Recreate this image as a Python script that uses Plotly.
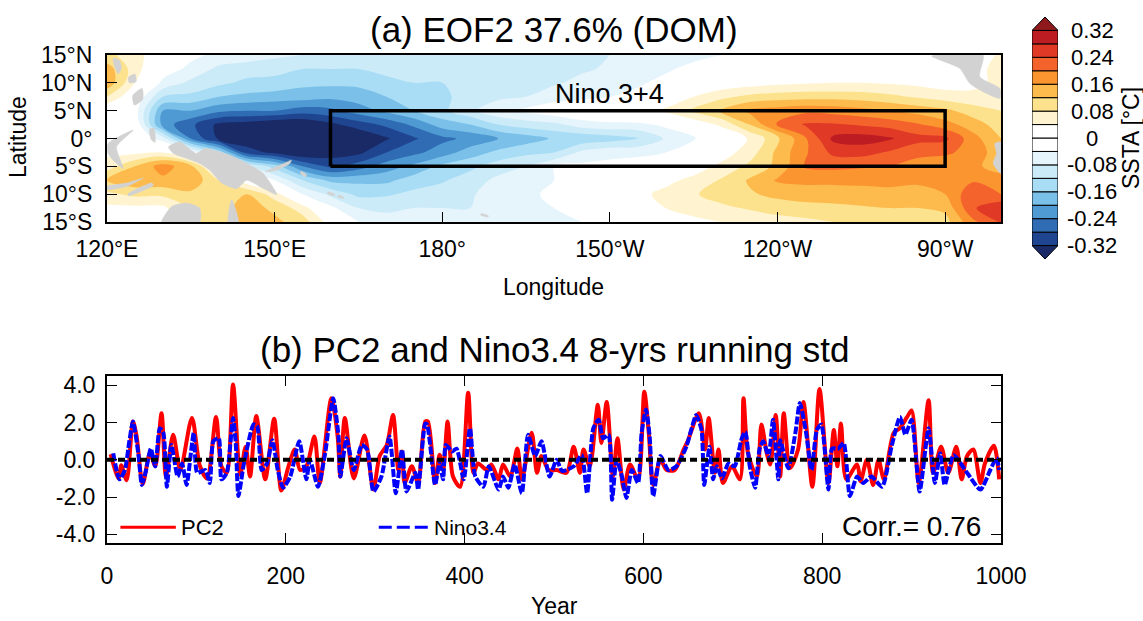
import numpy as np
import plotly.graph_objects as go

FONT = "Liberation Sans"
W, H = 1143, 621

# ---------- panel (a) data ----------
lats = [15, 12.5, 10, 7.5, 5, 2.5, 0, -2.5, -5, -7.5, -10, -12.5, -15]
lons = list(range(120, 285, 5))
eof_by_lon = [
 [.09,.14,.15,.08,0,0,0,.03,.06,.12,.07,.03,.02],
 [.06,.06,.04,0,-.02,0,0,.03,.12,.15,.09,.03,.02],
 [0,-.02,-.05,-.12,-.2,-.22,-.06,.04,.18,.15,.09,.03,.02],
 [-.03,-.05,-.09,-.13,-.2,-.27,-.24,-.02,.13,.15,.11,.09,.09],
 [-.05,-.09,-.11,-.16,-.23,-.33,-.33,-.13,0,.08,.1,.1,.09],
 [-.06,-.1,-.13,-.17,-.24,-.34,-.35,-.3,-.07,.01,.12,.14,.14],
 [-.07,-.11,-.13,-.18,-.24,-.36,-.36,-.33,-.14,-.04,.06,.11,.13],
 [-.08,-.12,-.15,-.18,-.26,-.36,-.38,-.36,-.24,-.12,-.04,.06,.10],
 [-.09,-.12,-.15,-.19,-.25,-.33,-.38,-.34,-.29,-.17,-.09,-.03,.02],
 [-.09,-.12,-.15,-.18,-.22,-.3,-.36,-.33,-.26,-.17,-.13,-.08,-.04],
 [-.09,-.11,-.13,-.16,-.19,-.27,-.325,-.28,-.22,-.17,-.125,-.09,-.06],
 [-.09,-.11,-.12,-.14,-.16,-.23,-.285,-.25,-.19,-.14,-.11,-.08,-.06],
 [-.09,-.11,-.12,-.125,-.13,-.18,-.25,-.22,-.15,-.125,-.1,-.08,-.06],
 [-.09,-.11,-.11,-.11,-.09,-.16,-.23,-.18,-.13,-.1,-.085,-.08,-.06],
 [-.09,-.1,-.105,-.09,-.05,-.12,-.2,-.15,-.1,-.07,-.06,-.06,-.05],
 [-.09,-.1,-.095,-.08,-.03,-.1,-.18,-.13,-.08,-.06,-.05,-.05,-.05],
 [-.085,-.09,-.085,-.06,-.01,-.09,-.155,-.12,-.04,-.04,-.03,-.04,-.05],
 [-.085,-.085,-.07,-.05,0,-.06,-.15,-.07,-.03,-.02,-.01,-.03,-.04],
 [-.08,-.075,-.06,-.04,.01,-.05,-.14,-.05,-.03,0,0,-.02,-.03],
 [-.07,-.06,-.045,-.03,.03,-.05,-.125,-.05,-.02,.01,.03,.01,-.01],
 [-.06,-.045,-.03,0,.05,-.03,-.075,-.04,0,.03,.05,.04,.02],
 [-.05,-.03,-.01,.04,.09,.01,-.045,-.01,.02,.05,.075,.055,.03],
 [-.04,-.01,.01,.07,.125,.05,-.01,.02,.05,.085,.1,.07,.04],
 [-.03,0,.02,.09,.17,.12,.045,.06,.09,.125,.115,.085,.05],
 [-.02,.01,.03,.10,.18,.205,.11,.13,.13,.165,.13,.1,.06],
 [-.01,.01,.035,.105,.19,.245,.195,.195,.205,.17,.14,.105,.07],
 [-.005,.02,.04,.105,.185,.245,.29,.25,.21,.17,.14,.11,.08],
 [-.005,.02,.04,.1,.175,.235,.30,.255,.205,.17,.145,.115,.085],
 [-.01,.01,.035,.09,.16,.225,.285,.235,.2,.17,.15,.12,.08],
 [-.02,.005,.03,.075,.145,.205,.255,.21,.185,.165,.15,.12,.085],
 [-.03,0,.02,.06,.13,.175,.25,.205,.18,.17,.16,.13,.105],
 [-.04,.01,.03,.05,.1,.14,.175,.19,.17,.195,.23,.235,.19],
 [.06,.07,.05,.06,.08,.1,.12,.13,.14,.18,.2,.275,.245],
]

levels = [-.32,-.28,-.24,-.20,-.16,-.12,-.08,-.04,0,.04,.08,.12,.16,.20,.24,.28,.32]
band_colors = ["#1a2a66","#1f4590","#2f6cb3","#4f9ad3","#7bc0e8","#a8ddf5","#ccebf9","#e6f4fc","#ffffff",
               "#ffffff","#fff4cf","#fde28d","#fdbb4d","#fb9530","#f4632b","#e03a27","#bd1c23","#8f1a1e"]

land_polys = [
 ([121.1,122.2,122.6,122.0,121.4],[14.4,14.1,12.6,11.6,12.8]),
 ([123.8,125.0,125.2,124.0],[11.0,11.6,10.2,10.0]),
 ([124.6,126.3,126.4,124.9],[7.7,9.0,7.0,6.0]),
 ([127.6,128.4,128.6,127.9],[1.6,1.9,-0.7,-0.2]),
 ([120.2,124.7,121.7,122.9,121.1,120.2],[-0.9,1.5,-1.5,-5.4,-3.9,-2.7]),
 ([131,133.1,134.3,136,137.5,142,146.2,148,150.4,148,145,143.2,140.5,138.4,136.6,134.3,131.9],
  [-1.5,-0.6,-1.5,-2.7,-1.8,-3,-5.1,-6.3,-10.1,-9,-7.5,-9,-8,-5.7,-4.5,-3.6,-2.7]),
 ([148.3,150.4,152.7,153,151.6,149.5],[-6,-5.7,-4.5,-3.9,-4.5,-5.4]),
 ([154.8,155.7,155.4,154.6],[-5.9,-6.5,-6.9,-6.2]),
 ([159.6,160.8,160.6,159.4],[-9.6,-10,-10.3,-9.9]),
 ([161.4,162.4,162.2,161.2],[-10.2,-10.6,-10.8,-10.4]),
 ([187,188.3,188.1,186.8],[-13.5,-13.9,-14.1,-13.7]),
 ([129.8,131.6,134.3,136.6,136.6],[-15,-12.2,-11.6,-12.5,-15]),
 ([141.7,142.3,143.5],[-15,-11,-15]),
 ([123.8,128,128.3,123.8],[-9.9,-8,-8.4,-10.3]),
 ([120,123.5,126.5,123.6,120],[-8.6,-8,-7.1,-8.6,-9.2]),
 ([267.6,276.8,276.2,279.8,279.8,277.4,274.4,272.6],[14.8,15,11.1,9,7.2,8.1,9.9,12.6]),
 ([278.9,280,280,278.6,279.2],[-0.9,-0.6,-6.3,-4.5,-2.7]),
]
box_lon = [160, 270, 270, 160, 160]
box_lat = [-5, -5, 5, 5, -5]

map_xticks = [120,150,180,210,240,270]
map_xlabels = ["120°E","150°E","180°","150°W","120°W","90°W"]
map_yticks = [15,10,5,0,-5,-10,-15]
map_ylabels = ["15°N","10°N","5°N","0°","5°S","10°S","15°S"]

# ---------- panel (b) data ----------
pc2_year = [4,13,16,22,29,33,40,48,54,61,66,74,82,95,104,112,122,128,134,141,149,155,160,167,177,187,195,203,210,216,
 223,232,238,251,258,261,266,276,288,298,305,313,320,326,330,333,341,348,356,359,367,372,376,381,387,395,404,410,415,425,
 430,438,443,451,459,464,475,481,486,494,503,514,522,529,533,540,549,553,559,566,571,578,585,594,601,606,611,619,626,635,
 645,650,662,669,673,680,684,689,699,708,712,717,727,732,738,742,748,753,757,764,773,779,789,797,807,813,817,821,827,839,
 843,850,857,863,869,880,887,895,900,908,919,924,933,941,950,956,962,969,977,982,992,998]
pc2 = [.3,-1.0,-.3,-1.1,2.05,1.3,-1.3,.35,-.35,2.5,-.9,1.35,-.55,2.25,-.35,-1.0,2.3,-.35,-.7,4.05,-.8,.7,-.9,2.35,-1.05,2.2,-1.65,-.35,.55,-.55,
 -.35,1.25,-1.25,3.3,1.25,-.9,2.25,-1.0,1.3,-1.6,.2,.8,2.4,-.55,.45,-1.25,-.35,-1.25,2.05,2.05,-1.25,.27,-.55,2.05,-.9,-1.45,3.6,-.7,-.2,-.55,
 -.25,-1.05,-.25,-.9,.6,-1.05,1.45,-.7,.2,-.55,-.55,-.7,.7,-.7,.55,-.35,2.95,.9,3.1,-.9,1.15,-1.6,-.25,-1.05,3.65,1.45,-1.35,0,-.55,-.55,
 .55,1.05,2.5,.55,2.25,-.7,.55,-1.25,-.35,-1.05,3.3,.35,-.9,1.9,.35,-.25,2.4,-.9,2.5,-.45,.55,3.1,-1.45,3.8,-1.25,1.6,-.35,1.95,-1.05,-.25,
 -1.15,0,-1.35,0,-1.05,1.45,1.7,2.3,2.65,-1.25,3.2,-.7,.7,-.7,.7,-1.05,.2,.55,-1.25,-.2,.75,-1.05]

nino_year = [7,14,20,25,29,35,39,43,49,54,59,63,67,72,79,84,89,97,101,110,115,119,125,128,134,141,144,147,153,164,
 168,173,179,185,191,197,205,215,223,227,236,244,253,259,261,268,276,285,291,298,307,316,323,330,335,345,348,356,358,361,
 367,372,376,379,386,391,399,406,412,421,427,438,443,449,456,464,471,479,486,495,503,509,522,531,537,544,550,555,561,565,
 570,576,581,587,594,598,603,607,611,619,628,637,648,654,659,665,668,674,678,682,688,695,702,710,714,719,725,730,734,740,
 745,751,753,762,770,775,782,788,794,799,807,811,818,824,831,839,846,855,867,878,887,893,900,909,919,926,932,937,947,962,
 977,988,995,998]
nino = [.35,-1.05,-.55,1.0,2.05,.35,-1.35,-.7,.6,-.35,1.7,1.45,-1.45,.8,-.9,-.2,-1.35,1.45,-.7,-.55,-1.25,1.0,1.15,-1.05,-.7,2.25,.9,-1.95,-.25,1.9,
 1.8,-.55,-.2,1.05,-.55,-1.5,-.9,1.0,-1.05,0,-1.45,.35,3.3,1.25,-.9,1.15,-.55,.8,.55,-1.7,-.9,1.25,-1.8,.55,-1.7,-.7,-1.6,1.95,1.9,1.0,
 -1.35,-.2,-1.05,.8,.45,.6,-1.05,1.7,-.9,-1.45,-.35,-1.6,-.9,-1.5,-.25,-1.8,1.35,.2,1.0,-.9,0,-.6,-.35,.25,-1.8,1.7,2.15,1.15,1.35,-2.15,
 0,-.9,-2.05,-.55,-1.25,1.45,2.7,1.25,-1.95,.2,-.55,-.35,.7,1.7,2.4,1.6,-1.35,.7,-1.05,-.35,-1.0,-.2,-.35,1.15,1.5,-.35,-1.5,.6,1.0,.2,
 2.15,-1.05,1.05,-.45,1.45,3.05,1.45,-.55,1.6,1.9,-1.6,.6,.6,.9,-1.95,-.9,-1.25,-.9,-1.45,.8,2.3,1.35,2.15,-1.7,1.7,-1.25,.35,-1.35,.25,-.7,
 -1.6,-.55,.1,-.55]

zero_x = [0, 1000]
zero_y = [0, 0]
pc_xticks = [0,200,400,600,800,1000]
pc_yticks = [4,2,0,-2,-4]
pc_ylabels = ["4.0","2.0","0.0","-2.0","-4.0"]
legend_x_pc2 = [15, 77]
legend_x_nino = [304, 361]
legend_y = [-3.62, -3.62]

cb_ticks = [.32,.24,.16,.08,0,-.08,-.16,-.24,-.32]
cb_labels = ["0.32","0.24","0.16","0.08","0","-0.08","-0.16","-0.24","-0.32"]

# ---------- figure ----------
def dx(a, b): return [a / W, b / W]
def dy(top, bot): return [1 - bot / H, 1 - top / H]

fig = go.Figure()
z = np.array(eof_by_lon).T
scale = []
n = len(band_colors)
for i, c in enumerate(band_colors):
    scale += [[i / n, c], [(i + 1) / n, c]]

fig.add_trace(go.Contour(x=lons, y=lats, z=z, zmin=-.36, zmax=.36, colorscale=scale, showscale=False,
    autocontour=False, contours=dict(start=levels[0], end=levels[-1], size=.04, coloring="fill", showlines=False),
    line=dict(width=0, smoothing=1.0), hoverinfo="skip", xaxis="x", yaxis="y"))
for plon, plat in land_polys:
    fig.add_trace(go.Scatter(x=plon + plon[:1], y=plat + plat[:1], mode="lines", fill="toself", fillcolor="#d2d2d2",
        line=dict(color="#d2d2d2", width=0.5, shape="spline", smoothing=0.6), hoverinfo="skip", xaxis="x", yaxis="y"))
fig.add_trace(go.Scatter(x=box_lon, y=box_lat, mode="lines", line=dict(color="black", width=3.5), hoverinfo="skip", xaxis="x", yaxis="y"))

fig.add_trace(go.Scatter(x=pc2_year, y=pc2, mode="lines", line=dict(color="#ff0000", width=4, shape="spline", smoothing=0.8), xaxis="x2", yaxis="y2"))
fig.add_trace(go.Scatter(x=nino_year, y=nino, mode="lines", line=dict(color="#0000ff", width=4, dash="8px,2px", shape="spline", smoothing=0.6), xaxis="x2", yaxis="y2"))
fig.add_trace(go.Scatter(x=zero_x, y=zero_y, mode="lines", line=dict(color="black", width=4, dash="7px,4px"), xaxis="x2", yaxis="y2"))
fig.add_trace(go.Scatter(x=legend_x_pc2, y=legend_y, mode="lines", line=dict(color="#ff0000", width=3), xaxis="x2", yaxis="y2"))
fig.add_trace(go.Scatter(x=legend_x_nino, y=legend_y, mode="lines", line=dict(color="#0000ff", width=3, dash="13px,5px"), xaxis="x2", yaxis="y2"))

# colour bar on its own axes
fig.add_trace(go.Bar(x=[.5] * 16, y=[.04] * 16, base=levels[:-1], width=1, marker=dict(color=band_colors[1:-1], line=dict(color="black", width=1)),
    hoverinfo="skip", xaxis="x3", yaxis="y3"))
fig.add_trace(go.Scatter(x=[0, 1, .5, 0], y=[.32, .32, .36, .32], mode="lines", fill="toself", fillcolor=band_colors[-1], line=dict(color="black", width=1), hoverinfo="skip", xaxis="x3", yaxis="y3"))
fig.add_trace(go.Scatter(x=[0, 1, .5, 0], y=[-.32, -.32, -.36, -.32], mode="lines", fill="toself", fillcolor=band_colors[0], line=dict(color="black", width=1), hoverinfo="skip", xaxis="x3", yaxis="y3"))

TF = dict(family=FONT, size=23, color="black")
common = dict(showgrid=False, zeroline=False, showline=True, linecolor="black", ticks="inside", tickcolor="black", tickfont=TF, automargin=False)
layout = dict(
    width=W, height=H, margin=dict(l=0, r=0, t=0, b=0), paper_bgcolor="white", plot_bgcolor="white",
    showlegend=False, barmode="overlay", font=dict(family=FONT, color="black"),
    xaxis=dict(domain=dx(107, 1001), range=[120, 280], tickvals=map_xticks, ticktext=map_xlabels, linewidth=2, mirror=True, ticklen=10, tickwidth=1, ticklabelstandoff=5, **common),
    yaxis=dict(domain=dy(55, 222), range=[-15, 15], tickvals=map_yticks, ticktext=map_ylabels, linewidth=2, mirror=True, ticklen=10, tickwidth=1, ticklabelstandoff=8, **common),
    xaxis2=dict(domain=dx(107, 1001), range=[0, 1000], tickvals=pc_xticks, anchor="y2", linewidth=2, mirror="ticks", ticklen=10, tickwidth=1, ticklabelstandoff=11, **common),
    yaxis2=dict(domain=dy(376, 543), range=[-4.47, 4.5], tickvals=pc_yticks, ticktext=pc_ylabels, anchor="x2", linewidth=2, mirror="ticks", ticklen=10, tickwidth=1, ticklabelstandoff=5, **common),
    xaxis3=dict(domain=dx(1032, 1058), range=[0, 1], visible=False, anchor="y3"),
    yaxis3=dict(domain=dy(17, 259), range=[-.36, .36], visible=False, anchor="x3"),
)

def note(text, x, y, size, **kw):
    d = dict(text=text, x=x / W, y=1 - y / H, xref="paper", yref="paper", showarrow=False, xanchor="center", yanchor="middle",
             font=dict(family=FONT, size=size, color="black"))
    d.update(kw)
    return d

ann = [
    note("(a) EOF2 37.6% (DOM)", 554, 30, 35),
    note("(b) PC2 and Nino3.4 8-yrs running std", 554, 349, 35),
    note("Latitude", 18, 137, 23, textangle=-90),
    note("Longitude", 553, 287, 23),
    note("Year", 554, 606, 23),
    note("Nino 3+4", 609, 94, 27),
    note("PC2", 202, 527, 22),
    note("Nino3.4", 470, 527, 21),
    note("Corr.= 0.76", 911, 526, 28),
    note("SSTA [°C]", 1131, 138, 23, textangle=-90),
]
for t, lab in zip(cb_ticks, cb_labels):
    ann.append(dict(text=lab, x=1092 / W, y=t, xref="paper", yref="y3", showarrow=False, xanchor="center", yanchor="middle",
                    font=dict(family=FONT, size=22, color="black")))
layout["annotations"] = ann
fig.update_layout(**layout)
fig.write_html("out.html", config=dict(displayModeBar=False), post_script="document.body.style.margin='0';document.body.style.overflow='hidden';")
